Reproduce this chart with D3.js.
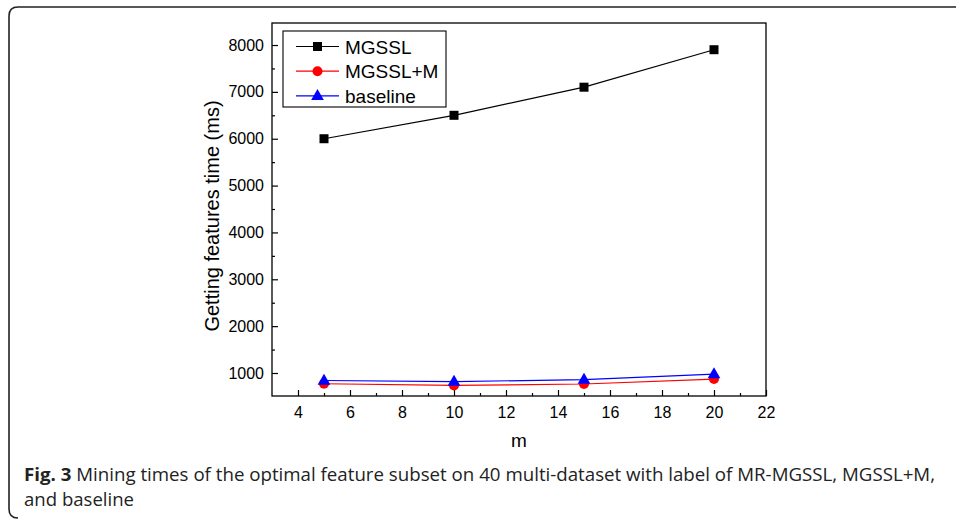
<!DOCTYPE html>
<html><head><meta charset="utf-8">
<script src="https://cdn.jsdelivr.net/npm/d3@7"></script>
<style>body{margin:0;background:#fff}svg{display:block}</style>
</head><body>
<svg id="c" width="956" height="520"></svg>
<script>
const mValues = [5, 10, 15, 20];
const mgssl = [6000, 6500, 7100, 7900];
const mgsslM = [770, 735, 765, 870];
const baseline = [840, 815, 860, 975];
const xTicks = [4, 6, 8, 10, 12, 14, 16, 18, 20, 22];
const yTicks = [1000, 2000, 3000, 4000, 5000, 6000, 7000, 8000];
const seriesNames = ["MGSSL", "MGSSL+M", "baseline"];

const svg = d3.select("#c");
const L = 272, R = 766, T = 23, B = 396;
const x = d3.scaleLinear().domain([3, 22]).range([L, R]);
const y = d3.scaleLinear().domain([509, 8470]).range([B, T]);
const font = "Liberation Sans, Arial, sans-serif";

// outer rounded border (left + top + bottom-left)
svg.append("path")
  .attr("d", `M956,7 L18,7 Q9,7 9,16 L9,509 Q9,518 18,518`)
  .attr("fill", "none").attr("stroke", "#222").attr("stroke-width", 1.6);

// frame
svg.append("rect").attr("x", L).attr("y", T).attr("width", R - L).attr("height", B - T)
  .attr("fill", "none").attr("stroke", "#000").attr("stroke-width", 1.3);

// x axis
const xAxis = d3.axisBottom(x).tickValues(xTicks).tickSize(-6).tickPadding(11).tickFormat(d3.format("d"));
const gx = svg.append("g").attr("transform", `translate(0,${B})`).call(xAxis);
gx.select(".domain").remove();
gx.selectAll("text").attr("font-family", font).attr("font-size", 16).attr("fill", "#000");
gx.selectAll("line").attr("stroke", "#000").attr("stroke-width", 1.2);
const xMinor = d3.axisBottom(x).tickValues(d3.range(5, 22, 2)).tickSize(-3).tickFormat("");
const gxm = svg.append("g").attr("transform", `translate(0,${B})`).call(xMinor);
gxm.select(".domain").remove();
gxm.selectAll("line").attr("stroke", "#000").attr("stroke-width", 1.2);

// y axis
const yAxis = d3.axisLeft(y).tickValues(yTicks).tickSize(-6).tickPadding(8).tickFormat(d3.format("d"));
const gy = svg.append("g").attr("transform", `translate(${L},0)`).call(yAxis);
gy.select(".domain").remove();
gy.selectAll("text").attr("font-family", font).attr("font-size", 16).attr("fill", "#000");
gy.selectAll("line").attr("stroke", "#000").attr("stroke-width", 1.2);
const yMinor = d3.axisLeft(y).tickValues(d3.range(1500, 8001, 1000)).tickSize(-3).tickFormat("");
const gym = svg.append("g").attr("transform", `translate(${L},0)`).call(yMinor);
gym.select(".domain").remove();
gym.selectAll("line").attr("stroke", "#000").attr("stroke-width", 1.2);

// axis titles
svg.append("text").attr("x", x(12.5)).attr("y", 447).attr("text-anchor", "middle")
  .attr("font-family", font).attr("font-size", 19).text("m");
svg.append("text").attr("transform", `translate(219,216) rotate(-90)`)
  .attr("text-anchor", "middle").attr("font-family", font).attr("font-size", 20)
  .text("Getting features time (ms)");

// series
const series = [
  {name: seriesNames[0], vals: mgssl, color: "#000", shape: "square"},
  {name: seriesNames[1], vals: mgsslM, color: "#ff0000", shape: "circle"},
  {name: seriesNames[2], vals: baseline, color: "#0000ff", shape: "triangle"}
];
const line = d3.line().x((d, i) => x(mValues[i])).y(d => y(d));
function marker(g, shape, color, cx, cy) {
  if (shape === "square") g.append("rect").attr("x", cx - 4.5).attr("y", cy - 4.5).attr("width", 9).attr("height", 9).attr("fill", color);
  else if (shape === "circle") g.append("circle").attr("cx", cx).attr("cy", cy).attr("r", 5).attr("fill", color);
  else g.append("path").attr("d", d3.symbol(d3.symbolTriangle, 70)()).attr("transform", `translate(${cx},${cy + 0.5})`).attr("fill", color);
}
series.forEach(s => {
  svg.append("path").datum(s.vals).attr("d", line).attr("fill", "none").attr("stroke", s.color).attr("stroke-width", 1.2);
});
series.forEach(s => {
  const g = svg.append("g");
  s.vals.forEach((v, i) => marker(g, s.shape, s.color, x(mValues[i]), y(v)));
});

// legend
const lg = svg.append("g");
lg.append("rect").attr("x", 283).attr("y", 31).attr("width", 163).attr("height", 76)
  .attr("fill", "#fff").attr("stroke", "#000").attr("stroke-width", 1.1);
series.forEach((s, i) => {
  const ly = 46.5 + i * 24.7;
  lg.append("line").attr("x1", 296).attr("x2", 339).attr("y1", ly).attr("y2", ly).attr("stroke", s.color).attr("stroke-width", 1.2);
  marker(lg, s.shape, s.color, 317.5, ly);
  lg.append("text").attr("x", 345).attr("y", ly + 7).attr("font-family", font).attr("font-size", 19).text(s.name);
});

// caption
const cap = svg.append("text").attr("x", 24).attr("y", 481).attr("font-family", "Open Sans, sans-serif")
  .attr("font-size", 17.5).attr("fill", "#222").attr("textLength", 911).attr("lengthAdjust", "spacingAndGlyphs");
cap.append("tspan").attr("font-weight", "bold").text("Fig. 3");
cap.append("tspan").text(" Mining times of the optimal feature subset on 40 multi-dataset with label of MR-MGSSL, MGSSL+M,");
svg.append("text").attr("x", 24).attr("y", 506).attr("font-family", "Open Sans, sans-serif")
  .attr("font-size", 17.5).attr("fill", "#222").attr("textLength", 110).attr("lengthAdjust", "spacingAndGlyphs")
  .text("and baseline");
</script>
</body></html>
